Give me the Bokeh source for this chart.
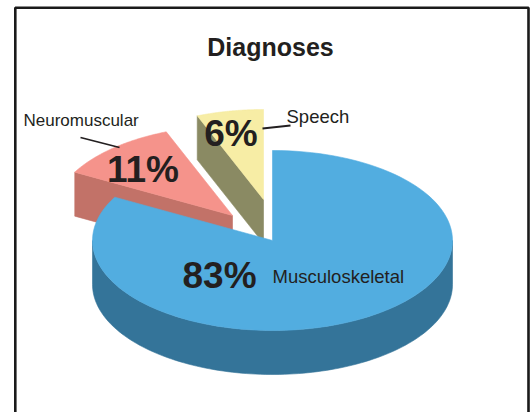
import numpy as np
from bokeh.plotting import figure
from bokeh.models import Range1d
from bokeh.core.properties import value
from bokeh.embed import file_html
from bokeh.resources import INLINE

# ---------------- data ----------------
title = "Diagnoses"
categories = ["Musculoskeletal", "Neuromuscular", "Speech"]
percents = [83, 11, 6]

# ---------------- style / layout ----------------
top_colors = ["#52ADE0", "#F5938B", "#F7EDA5"]
side_colors = ["#347499", "#C27268", "#8A8A63"]
explode = [(0, 0), (-40, -25), (-9, -41)]       # screen-pixel offsets of each slice
CX, CY, RX, RY, DEPTH = 264, 232, 180, 90, 44    # ellipse of the top face (screen px)
START = 90                                        # first slice starts at 12 o'clock, clockwise
TEXT = "#231F20"
FONT = value("Liberation Sans")

title_pos = (262, 38)
pct_pos = [(211, 267), (134.5, 161), (222.5, 125)]     # percent label anchors
name_pos = [(264, 268), (15, 112), (278, 108)]         # category label anchors
leaders = [None, ((72, 111), (129, 139)), ((254, 282), (120, 117))]

W, H = 532, 412
OFF = 8
p = figure(width=W, height=H, x_range=Range1d(-OFF, W - OFF), y_range=Range1d(H - OFF, -OFF),
           output_backend="svg", toolbar_location=None,
           x_axis_type=None, y_axis_type=None, min_border=0,
           outline_line_color=None, background_fill_color="white")
p.grid.visible = False


def arc(a, b, ox, oy, dz=0, n=120):
    t = np.radians(np.linspace(a, b, n))
    return list(CX + ox + RX * np.cos(t)), list(CY + oy - RY * np.sin(t) + dz)


# slice angle ranges (counter-clockwise a..b), clockwise from START
ranges = []
cur = START
for v in percents:
    end = cur - 360.0 * v / 100.0
    ranges.append((end, cur))
    cur = end

polys_x, polys_y, fills = [], [], []

def add(xs, ys, c):
    polys_x.append(xs); polys_y.append(ys); fills.append(c)

# draw back-to-front: the small exploded slices first, the big one last
for i in reversed(range(len(percents))):
    a, b = ranges[i]
    ox, oy = explode[i]
    vx, vy = CX + ox, CY + oy
    # outer wall (visible where the rim faces the viewer)
    for k in range(-2, 3):
        lo, hi = max(a, -180 + 360 * k), min(b, 360 * k)
        if hi > lo:
            tx, ty = arc(lo, hi, ox, oy)
            bx, by = arc(hi, lo, ox, oy, DEPTH)
            add(tx + bx, ty + by, side_colors[i])
    # cut faces
    for ang, vis in ((a, np.cos(np.radians(a)) > 1e-9), (b, np.cos(np.radians(b)) < -1e-9)):
        if vis:
            t = np.radians(ang)
            rx_, ry_ = vx + RX * np.cos(t), vy - RY * np.sin(t)
            add([vx, rx_, rx_, vx], [vy, ry_, ry_ + DEPTH, vy + DEPTH], side_colors[i])
    # top face
    tx, ty = arc(a, b, ox, oy)
    add([vx] + tx, [vy] + ty, top_colors[i])

p.patches(xs=polys_x, ys=polys_y, fill_color=fills, line_color=fills, line_width=0.6)

# frame (left, top, right; runs off the bottom)
p.line(x=[6.8, 6.8, 520, 520], y=[H, -0.8, -0.8, H], line_color="#1a1a1a", line_width=2.6)

# title
p.text(x=[title_pos[0]], y=[title_pos[1]], text=[title], text_font=FONT, text_font_style="bold",
       text_font_size="25px", text_align="center", text_baseline="alphabetic",
       text_color=TEXT)

# percent labels
p.text(x=[q[0] for q in pct_pos], y=[q[1] for q in pct_pos],
       text=[f"{v}%" for v in percents], text_font=FONT, text_font_style="bold",
       text_font_size="37px", text_align="center", text_baseline="alphabetic",
       text_color=TEXT)

# category labels
sizes = ["18.5px", "17px", "18.5px"]
for i, name in enumerate(categories):
    p.text(x=[name_pos[i][0]], y=[name_pos[i][1]], text=[name], text_font=FONT,
           text_font_size=sizes[i], text_align="left", text_baseline="alphabetic",
           text_color=TEXT)
    if leaders[i] is not None:
        p.line(x=list(leaders[i][0]), y=list(leaders[i][1]), line_color=TEXT, line_width=1.8)

open("out.html", "w").write(file_html(p, INLINE))
